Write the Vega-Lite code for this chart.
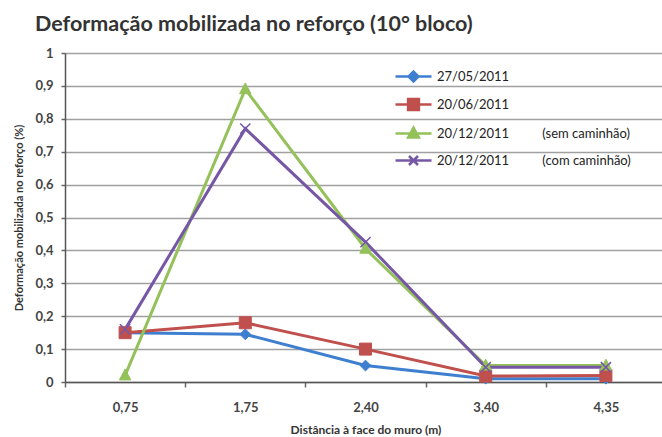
{
  "$schema": "https://vega.github.io/schema/vega-lite/v6.json",
  "width": 601,
  "height": 329,
  "autosize": "none",
  "padding": {"left": 65, "top": 53, "right": 0, "bottom": 55},
  "background": "white",
  "title": {
    "text": "Deformação mobilizada no reforço (10° bloco)",
    "anchor": "start",
    "frame": "group",
    "dx": -30,
    "offset": 12,
    "font": "Lato",
    "fontSize": 21.5,
    "fontWeight": "bold",
    "color": "#333333"
  },
  "config": {
    "view": {"stroke": null},
    "font": "Lato"
  },
  "data": {
    "values": [
      {"series": "27/05/2011", "dist": "0,75", "value": 0.15},
      {"series": "27/05/2011", "dist": "1,75", "value": 0.145},
      {"series": "27/05/2011", "dist": "2,40", "value": 0.05},
      {"series": "27/05/2011", "dist": "3,40", "value": 0.01},
      {"series": "27/05/2011", "dist": "4,35", "value": 0.01},
      {"series": "20/06/2011", "dist": "0,75", "value": 0.15},
      {"series": "20/06/2011", "dist": "1,75", "value": 0.18},
      {"series": "20/06/2011", "dist": "2,40", "value": 0.10},
      {"series": "20/06/2011", "dist": "3,40", "value": 0.018},
      {"series": "20/06/2011", "dist": "4,35", "value": 0.02},
      {"series": "20/12/2011\u00a0\u00a0\u00a0\u00a0\u00a0\u00a0\u00a0\u00a0\u00a0\u00a0(sem caminhão)", "dist": "0,75", "value": 0.02},
      {"series": "20/12/2011\u00a0\u00a0\u00a0\u00a0\u00a0\u00a0\u00a0\u00a0\u00a0\u00a0(sem caminhão)", "dist": "1,75", "value": 0.89},
      {"series": "20/12/2011\u00a0\u00a0\u00a0\u00a0\u00a0\u00a0\u00a0\u00a0\u00a0\u00a0(sem caminhão)", "dist": "2,40", "value": 0.405},
      {"series": "20/12/2011\u00a0\u00a0\u00a0\u00a0\u00a0\u00a0\u00a0\u00a0\u00a0\u00a0(sem caminhão)", "dist": "3,40", "value": 0.05},
      {"series": "20/12/2011\u00a0\u00a0\u00a0\u00a0\u00a0\u00a0\u00a0\u00a0\u00a0\u00a0(sem caminhão)", "dist": "4,35", "value": 0.05},
      {"series": "20/12/2011\u00a0\u00a0\u00a0\u00a0\u00a0\u00a0\u00a0\u00a0\u00a0\u00a0(com caminhão)", "dist": "0,75", "value": 0.16},
      {"series": "20/12/2011\u00a0\u00a0\u00a0\u00a0\u00a0\u00a0\u00a0\u00a0\u00a0\u00a0(com caminhão)", "dist": "1,75", "value": 0.77},
      {"series": "20/12/2011\u00a0\u00a0\u00a0\u00a0\u00a0\u00a0\u00a0\u00a0\u00a0\u00a0(com caminhão)", "dist": "2,40", "value": 0.425},
      {"series": "20/12/2011\u00a0\u00a0\u00a0\u00a0\u00a0\u00a0\u00a0\u00a0\u00a0\u00a0(com caminhão)", "dist": "3,40", "value": 0.045},
      {"series": "20/12/2011\u00a0\u00a0\u00a0\u00a0\u00a0\u00a0\u00a0\u00a0\u00a0\u00a0(com caminhão)", "dist": "4,35", "value": 0.045}
    ]
  },
  "encoding": {
    "x": {
      "field": "dist",
      "type": "ordinal",
      "scale": {"type": "band", "paddingInner": 0, "paddingOuter": 0},
      "axis": {
        "title": "Distância à face do muro (m)",
        "titleFont": "Lato",
        "titleFontSize": 12,
        "titleFontWeight": "bold",
        "titleColor": "#333333",
        "titlePadding": 10,
        "labelAngle": 0,
        "labelFont": "Lato",
        "labelFontSize": 13,
        "labelFontWeight": "bold",
        "labelColor": "#444444",
        "labelPadding": 14,
        "tickBand": "extent",
        "tickSize": 5,
        "tickColor": "#666666",
        "tickWidth": 1.5,
        "domainColor": "#555555",
        "domainWidth": 1.5,
        "grid": false
      }
    },
    "y": {
      "field": "value",
      "type": "quantitative",
      "scale": {"domain": [0, 1]},
      "axis": {
        "title": "Deformação mobilizada no reforço (%)",
        "titleFont": "Lato",
        "titleFontSize": 11,
        "titleFontWeight": "bold",
        "titleColor": "#333333",
        "titlePadding": 10,
        "values": [0, 0.1, 0.2, 0.3, 0.4, 0.5, 0.6, 0.7, 0.8, 0.9, 1],
        "labelExpr": "replace(format(datum.value, '.1~f'), '.', ',')",
        "labelFont": "Lato",
        "labelFontSize": 13,
        "labelFontWeight": "bold",
        "labelColor": "#444444",
        "labelPadding": 8,
        "tickSize": 4,
        "tickColor": "#666666",
        "tickWidth": 1.5,
        "domainColor": "#555555",
        "domainWidth": 1.5,
        "grid": true,
        "gridColor": "#a0a0a0",
        "gridWidth": 1.5
      }
    }
  },
  "layer": [
    {
      "mark": {"type": "line", "strokeWidth": 3},
      "encoding": {
        "color": {
          "field": "series",
          "type": "nominal",
          "sort": null,
          "scale": {
            "domain": ["27/05/2011", "20/06/2011", "20/12/2011\u00a0\u00a0\u00a0\u00a0\u00a0\u00a0\u00a0\u00a0\u00a0\u00a0(sem caminhão)", "20/12/2011\u00a0\u00a0\u00a0\u00a0\u00a0\u00a0\u00a0\u00a0\u00a0\u00a0(com caminhão)"],
            "range": ["#3f7fcf", "#c0504d", "#94c15a", "#7557a6"]
          },
          "legend": {
            "title": null,
            "orient": "none",
            "legendX": 338,
            "legendY": 13,
            "padding": 0,
            "symbolSize": 324,
            "rowPadding": 7,
            "labelOffset": 13,
            "labelFont": "Lato",
            "labelFontSize": 13,
            "labelColor": "#222222",
            "labelLimit": 400,
            "encode": {
              "symbols": {
                "update": {
                  "shape": {"signal": "['M-2,0H2M0,-0.55L0.55,0L0,0.55L-0.55,0Z', 'M-2,0H2M-0.6,-0.6H0.6V0.6H-0.6Z', 'M-2,0H2M0,-0.65L0.6,0.45H-0.6Z', 'M-2,0H2M-0.5,-0.5L0.5,0.5M-0.5,0.5L0.5,-0.5'][datum.index]"},
                  "fill": {"scale": "color", "field": "value"},
                  "stroke": {"scale": "color", "field": "value"},
                  "strokeWidth": {"value": 2.5},
                  "size": {"value": 324}
                }
              }
            }
          }
        }
      }
    },
    {
      "transform": [{"filter": {"field": "series", "equal": "27/05/2011"}}],
      "mark": {"type": "point", "shape": "M0,-1.8L1.8,0L0,1.8L-1.8,0Z", "size": 36, "filled": true, "opacity": 1, "color": "#3f7fcf", "stroke": "#3f7fcf", "strokeWidth": 1}
    },
    {
      "transform": [{"filter": {"field": "series", "equal": "20/06/2011"}}],
      "mark": {"type": "point", "shape": "M-2,-2H2V2H-2Z", "size": 36, "filled": true, "opacity": 1, "color": "#c0504d", "stroke": "#c0504d", "strokeWidth": 1}
    },
    {
      "transform": [{"filter": {"field": "series", "equal": "20/12/2011\u00a0\u00a0\u00a0\u00a0\u00a0\u00a0\u00a0\u00a0\u00a0\u00a0(sem caminhão)"}}],
      "mark": {"type": "point", "shape": "M0,-2.1L1.9,1.5H-1.9Z", "size": 36, "filled": true, "opacity": 1, "color": "#94c15a", "stroke": "#94c15a", "strokeWidth": 1}
    },
    {
      "transform": [{"filter": {"field": "series", "equal": "20/12/2011\u00a0\u00a0\u00a0\u00a0\u00a0\u00a0\u00a0\u00a0\u00a0\u00a0(com caminhão)"}}],
      "mark": {"type": "point", "shape": "M-1.7,-1.7L1.7,1.7M-1.7,1.7L1.7,-1.7", "size": 36, "filled": false, "opacity": 1, "color": "#7557a6", "strokeWidth": 1.5}
    }
  ]
}
